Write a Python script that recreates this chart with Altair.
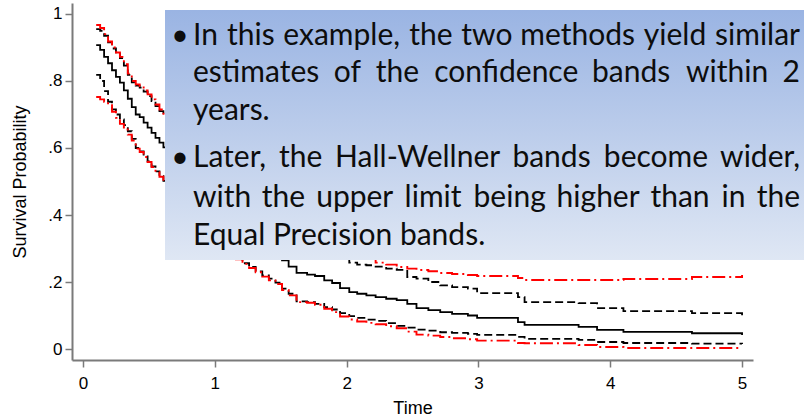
import altair as alt
import pandas as pd

# Event times (years) shared by the Kaplan-Meier estimate and its bands
times = [0.10, 0.13, 0.16, 0.19, 0.22, 0.25, 0.28, 0.31, 0.34, 0.37, 0.40, 0.43, 0.46, 0.49, 0.52, 0.55, 0.58, 0.61,
         0.66, 0.71, 0.76, 0.81, 0.86, 0.91, 0.96, 1.01, 1.06, 1.11, 1.16, 1.21, 1.26, 1.31, 1.36, 1.41, 1.46, 1.51,
         1.56, 1.62, 1.70, 1.76, 1.83, 1.89, 1.95,
         2.02, 2.08, 2.15, 2.22, 2.30, 2.38, 2.46, 2.53, 2.62, 2.71, 2.80, 2.92, 2.99,
         3.30, 3.35, 3.76, 3.90, 4.10, 4.62, 5.00]

survival = [0.907, 0.893, 0.872, 0.853, 0.832, 0.812, 0.795, 0.772, 0.747, 0.722, 0.700, 0.692, 0.676, 0.661, 0.645, 0.630, 0.616, 0.602,
            0.585, 0.562, 0.540, 0.520, 0.500, 0.480, 0.460, 0.440, 0.420, 0.400, 0.380, 0.362, 0.345, 0.328, 0.311, 0.295, 0.280, 0.265,
            0.246, 0.227, 0.222, 0.218, 0.205, 0.197, 0.182,
            0.170, 0.165, 0.160, 0.155, 0.150, 0.146, 0.135, 0.122, 0.116, 0.110, 0.105, 0.100, 0.093,
            0.080, 0.072, 0.066, 0.057, 0.051, 0.047, 0.042]

# Equal Precision band
ep_upper = [0.955, 0.950, 0.935, 0.915, 0.897, 0.882, 0.868, 0.846, 0.818, 0.796, 0.786, 0.780, 0.768, 0.755, 0.740, 0.725, 0.710, 0.697,
            0.680, 0.660, 0.640, 0.620, 0.600, 0.580, 0.560, 0.540, 0.520, 0.500, 0.480, 0.462, 0.444, 0.426, 0.408, 0.391, 0.375, 0.360,
            0.342, 0.322, 0.316, 0.310, 0.295, 0.285, 0.270,
            0.258, 0.252, 0.250, 0.246, 0.240, 0.236, 0.215, 0.210, 0.200, 0.190, 0.185, 0.180, 0.167,
            0.155, 0.140, 0.137, 0.122, 0.113, 0.107, 0.100]
ep_lower = [0.818, 0.800, 0.770, 0.738, 0.715, 0.700, 0.685, 0.668, 0.650, 0.627, 0.600, 0.590, 0.575, 0.560, 0.545, 0.530, 0.516, 0.502,
            0.482, 0.458, 0.435, 0.412, 0.390, 0.368, 0.348, 0.328, 0.308, 0.288, 0.270, 0.256, 0.245, 0.232, 0.220, 0.210, 0.198, 0.180,
            0.165, 0.142, 0.140, 0.135, 0.125, 0.118, 0.107,
            0.098, 0.093, 0.088, 0.084, 0.077, 0.069, 0.064, 0.058, 0.055, 0.050, 0.048, 0.045, 0.042,
            0.036, 0.030, 0.027, 0.021, 0.018, 0.016, 0.015]

# Hall-Wellner band
hw_upper = [0.967, 0.958, 0.940, 0.918, 0.900, 0.885, 0.872, 0.850, 0.822, 0.800, 0.790, 0.785, 0.772, 0.760, 0.745, 0.730, 0.715, 0.702,
            0.688, 0.670, 0.652, 0.635, 0.618, 0.600, 0.583, 0.566, 0.550, 0.533, 0.517, 0.500, 0.485, 0.470, 0.455, 0.440, 0.426, 0.412,
            0.398, 0.380, 0.368, 0.355, 0.342, 0.330, 0.315,
            0.302, 0.290, 0.275, 0.258, 0.252, 0.245, 0.240, 0.236, 0.232, 0.227, 0.224, 0.221, 0.218,
            0.212, 0.206, 0.206, 0.206, 0.209, 0.215, 0.221]
hw_lower = [0.752, 0.745, 0.738, 0.728, 0.708, 0.690, 0.672, 0.655, 0.640, 0.622, 0.598, 0.588, 0.573, 0.558, 0.543, 0.528, 0.514, 0.500,
            0.480, 0.456, 0.433, 0.410, 0.388, 0.366, 0.346, 0.326, 0.306, 0.286, 0.268, 0.254, 0.242, 0.229, 0.216, 0.205, 0.194, 0.176,
            0.160, 0.140, 0.138, 0.132, 0.120, 0.110, 0.097,
            0.088, 0.082, 0.078, 0.074, 0.068, 0.062, 0.052, 0.043, 0.040, 0.036, 0.032, 0.029, 0.025,
            0.018, 0.017, 0.012, 0.006, 0.003, 0.003, 0.002]

x_ticks = [0, 1, 2, 3, 4, 5]
y_ticks = [0, 0.2, 0.4, 0.6, 0.8, 1]

note_lines = [
    "In this example, the two methods yield similar",
    "estimates of the confidence bands within 2",
    "years.",
    "Later, the Hall-Wellner bands become wider,",
    "with the upper limit being higher than in the",
    "Equal Precision bands.",
]
bullet_rows = [0, 3]
justified_rows = [0, 1, 3, 4]

# ---- layout ----
W, H = 681, 357
PAD = {"left": 72, "top": 3, "right": 51, "bottom": 59}
note_baselines = [42, 79, 117, 164, 204, 242]
NOTE_LEFT, NOTE_RIGHT = 121, 728
NOTE_SIZE = 30
AXIS_FONT = "Liberation Sans"
NOTE_FONT = "Lato"

# Approximate advance widths (em) used to spread words across justified lines
_EM = {"a": .51, "b": .56, "c": .45, "d": .56, "e": .52, "f": .32, "g": .50, "h": .56, "i": .24,
       "j": .24, "k": .50, "l": .24, "m": .84, "n": .56, "o": .56, "p": .56, "q": .56, "r": .36,
       "s": .42, "t": .35, "u": .56, "v": .49, "w": .75, "x": .48, "y": .49, "z": .44,
       "E": .55, "H": .73, "I": .27, "L": .47, "P": .58, "W": .98, ",": .22, ".": .22, "-": .33}


def word_width(word):
    return sum(_EM.get(ch, .58) for ch in word) * NOTE_SIZE


def layout_words():
    """Place every word of the note; justified lines fill the panel width."""
    left_rows, right_rows = [], []
    for i, line in enumerate(note_lines):
        base = note_baselines[i]
        if i not in justified_rows:
            left_rows.append({"txt": line, "x": NOTE_LEFT, "base": base})
            continue
        words = line.split(" ")
        widths = [word_width(w) for w in words]
        gap = (NOTE_RIGHT - NOTE_LEFT - sum(widths)) / (len(words) - 1)
        pos = NOTE_LEFT
        for j, (w, ww) in enumerate(zip(words, widths)):
            if j == len(words) - 1:
                right_rows.append({"txt": w, "x": NOTE_RIGHT, "base": base})
            else:
                left_rows.append({"txt": w, "x": pos, "base": base})
            pos += ww + gap
    return pd.DataFrame(left_rows), pd.DataFrame(right_rows)


def long_frame(names_values):
    rows = []
    for name, vals in names_values:
        for t, v in zip(times, vals):
            rows.append({"time": t, "value": v, "series": name})
    return pd.DataFrame(rows)


x_scale = alt.Scale(domain=[-0.0835, 5.083], nice=False, zero=False)
y_scale = alt.Scale(domain=[-0.0328, 1.0328], nice=False, zero=False)

x_enc = alt.X("time:Q", scale=x_scale, axis=alt.Axis(
    values=x_ticks, title="Time", format="d",
    titleX=W / 2, titleY=53, titleBaseline="alphabetic", titleAlign="center"))
y_enc = alt.Y("value:Q", scale=y_scale, axis=alt.Axis(
    values=y_ticks, title="Survival Probability",
    labelExpr="datum.value == 0 ? '0' : datum.value == 1 ? '1' : replace(format(datum.value, '.1f'), '0.', '.')",
    labelPadding=3, titleAngle=-90, titleX=-47, titleY=H / 2,
    titleBaseline="alphabetic", titleAlign="center"))


def step_layer(df, color, dash, width):
    return alt.Chart(df).mark_line(
        interpolate="step-after", color=color, strokeDash=dash, strokeWidth=width, clip=False
    ).encode(x=x_enc, y=y_enc, detail="series:N")


km = step_layer(long_frame([("Estimate", survival)]), "#000000", [1, 0], 1.8)
ep = step_layer(long_frame([("EP lower", ep_lower), ("EP upper", ep_upper)]), "#000000", [8, 4], 1.8)
hw = step_layer(long_frame([("HW lower", hw_lower), ("HW upper", hw_upper)]), "#ff0000", [13, 4, 2, 4], 1.9)

# Note panel with a vertical blue gradient
panel_fill = alt.LinearGradient(
    gradient="linear",
    stops=[alt.GradientStop(color="#9ab4e3", offset=0),
           alt.GradientStop(color="#bccdeb", offset=0.5),
           alt.GradientStop(color="#dfe7f4", offset=1)],
    x1=0, x2=0, y1=0, y2=1)
panel = alt.Chart(pd.DataFrame({"k": [0]})).mark_rect(fill=panel_fill, strokeWidth=0).encode(
    x=alt.value(93), x2=alt.value(732), y=alt.value(7), y2=alt.value(257))

left_words, right_words = layout_words()
text_style = dict(baseline="alphabetic", font=NOTE_FONT, fontSize=NOTE_SIZE, color="#0d0d0d")
note_left = alt.Chart(left_words).mark_text(align="left", **text_style).encode(
    x=alt.X("x:Q", scale=None), y=alt.Y("base:Q", scale=None), text="txt:N")
note_right = alt.Chart(right_words).mark_text(align="right", **text_style).encode(
    x=alt.X("x:Q", scale=None), y=alt.Y("base:Q", scale=None), text="txt:N")

bullet_df = pd.DataFrame({"txt": ["\u2022"] * len(bullet_rows),
                          "base": [note_baselines[i] for i in bullet_rows]})
bullets = alt.Chart(bullet_df).mark_text(align="center", **text_style).encode(
    x=alt.value(108), y=alt.Y("base:Q", scale=None), text="txt:N")

chart = alt.layer(km, ep, hw, panel, note_left, note_right, bullets).properties(
    width=W, height=H, padding=PAD, autosize="none", background="white"
).configure_view(stroke=None).configure_axis(
    grid=False, domainColor="#7a7a7a", domainWidth=2, tickColor="#7a7a7a", tickWidth=1.5,
    tickSize=7, labelFont=AXIS_FONT, labelFontSize=17, labelColor="#000000",
    titleFont=AXIS_FONT, titleFontSize=18, titleFontWeight="normal", titleColor="#000000"
).configure_axisX(labelPadding=8)

chart.save("out.html", embed_options={"renderer": "svg", "actions": False})
